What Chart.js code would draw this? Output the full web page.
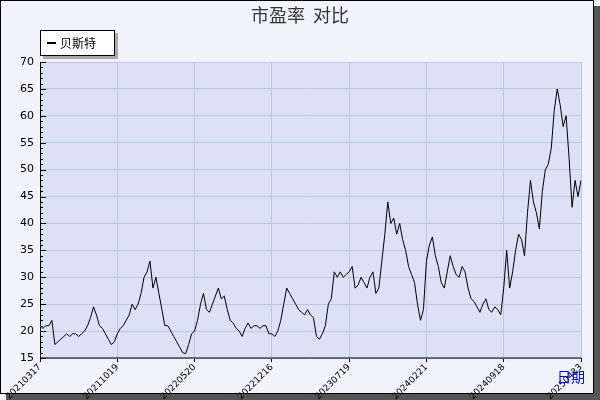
<!DOCTYPE html>
<html>
<head>
<meta charset="utf-8">
<script src="https://cdn.jsdelivr.net/npm/chart.js@4"></script>
<style>
  html, body { margin: 0; padding: 0; background: #fff; }
  #wrap { width: 600px; height: 400px; }
</style>
</head>
<body>
<div id="wrap"><canvas id="c" width="600" height="400"></canvas></div>
<script>
// PE ratio, 贝斯特 (~26 samples per tick interval)
const peValues = [
  21,20.5,21,21,22,17.5,18,18.5,19,19.5,19,19.5,19.5,19,19.5,20,21,22.5,24.5,23,21,20.5,19.5,18.5,17.5,18,
  19.5,20.5,21,22,23,25,24,25,27,30,31,33,28,30,27,24,21,21,20,19,18,17,16,15.8,17.5,19.5,
  20,22,25,27,24,23.5,25,26.5,28,26,26.5,24,22,21.5,20.5,20,19,20.5,21.5,20.5,21,21,20.5,21,21,19.5,
  19.5,19,20,22,25,28,27,26,25,24,23.5,23,24,23,22.5,19,18.5,19.5,21,25,26,31,30,31,30,30.5,
  31,32,28,28.5,30,29,28,30,31,27,28,33,38,44,40,41,38,40,37,35,32,30.5,29,25,22,24,
  33,36,37.5,34,32,29,28,31,34,32,30.5,30,32,31,28,26,25.5,24.5,23.5,25,26,24,23.5,24.5,24,23,
  28,35,28,31,35,38,37,34,42,48,44,42,39,46,50,51,54,61,65,62,58,60,52,43,48,45,
  48
];
const tickLabels = ['20210317','20211019','20220520','20221216','20230719','20240221','20240918','20250423'];
const seriesName = '贝斯特';
const chartTitle = '市盈率  对比';
const step = 26;

const labels = peValues.map((v, i) => (i % step === 0 || i === peValues.length - 1) ? tickLabels[Math.min(Math.ceil(i / step), tickLabels.length - 1)] : '');

const frame = {
  id: 'frame',
  beforeDraw(chart) {
    const ctx = chart.ctx, a = chart.chartArea;
    ctx.save();
    ctx.fillStyle = '#f1f2fa';
    ctx.fillRect(0, 0, 600, 400);
    // shadow on right/bottom
    ctx.fillStyle = '#555';
    ctx.fillRect(594, 6, 6, 394);
    ctx.fillRect(6, 394, 594, 6);
    ctx.strokeStyle = '#000';
    ctx.lineWidth = 1;
    ctx.strokeRect(0.5, 0.5, 593, 393);
    ctx.fillStyle = '#dce1f6';
    ctx.fillRect(a.left, a.top, a.right - a.left, a.bottom - a.top);
    ctx.restore();
  },
  afterDraw(chart) {
    const ctx = chart.ctx, a = chart.chartArea, y = chart.scales.y;
    ctx.save();
    // minor ticks on y axis
    ctx.strokeStyle = '#000';
    ctx.lineWidth = 1;
    for (let v = 15; v <= 70; v++) {
      const py = Math.round(y.getPixelForValue(v)) + 0.5;
      ctx.beginPath();
      ctx.moveTo(a.left, py);
      ctx.lineTo(a.left + (v % 5 === 0 ? 6 : 3), py);
      ctx.stroke();
    }
    ctx.beginPath();
    ctx.moveTo(a.left + 0.5, a.top);
    ctx.lineTo(a.left + 0.5, a.bottom);
    ctx.lineTo(a.right, a.bottom);
    ctx.stroke();
    // title
    ctx.fillStyle = '#333';
    ctx.font = '18px "Noto Sans CJK SC"';
    ctx.textAlign = 'center';
    ctx.textBaseline = 'middle';
    ctx.fillText(chartTitle, 300, 15);
    // legend
    ctx.fillStyle = '#aaa';
    ctx.fillRect(43, 33, 75, 26);
    ctx.fillStyle = '#fff';
    ctx.fillRect(40, 30, 75, 26);
    ctx.strokeStyle = '#000';
    ctx.strokeRect(40.5, 30.5, 74, 25);
    ctx.fillStyle = '#000';
    ctx.fillRect(47, 42, 9, 2);
    ctx.font = '12px "Noto Sans CJK SC"';
    ctx.textAlign = 'left';
    ctx.fillText(seriesName, 60, 43);
    // axis name
    ctx.fillStyle = '#0000ee';
    ctx.font = '14px "Noto Sans CJK SC"';
    ctx.fillText('日期', 557, 377);
    ctx.restore();
  }
};

new Chart(document.getElementById('c'), {
  type: 'line',
  data: {
    labels: labels,
    datasets: [{
      label: seriesName,
      data: peValues,
      borderColor: '#000',
      borderWidth: 1,
      pointRadius: 0,
      tension: 0,
      fill: false
    }]
  },
  options: {
    responsive: false,
    animation: false,
    devicePixelRatio: 1,
    layout: { padding: { left: 0, top: 62, right: 19, bottom: 0 } },
    plugins: { legend: { display: false }, title: { display: false }, tooltip: { enabled: false } },
    scales: {
      x: {
        type: 'category',
        offset: false,
        border: { display: false },
        grid: {
          color: c => (c.tick && c.tick.label) ? '#bcc6e8' : 'rgba(0,0,0,0)',
          tickColor: c => (c.tick && c.tick.label) ? '#000' : 'rgba(0,0,0,0)',
          tickLength: 4,
          drawTicks: true
        },
        ticks: {
          autoSkip: false,
          minRotation: 45,
          maxRotation: 45,
          color: '#000',
          font: { size: 9, family: 'DejaVu Sans' },
          padding: 0
        },
        afterFit: s => { s.height = 42; }
      },
      y: {
        min: 15,
        max: 70,
        border: { display: false },
        grid: { color: '#bcc6e8', drawTicks: false },
        ticks: { stepSize: 5, color: '#000', font: { size: 11, family: 'DejaVu Sans' }, padding: 6 },
        afterFit: s => { s.width = 40; }
      }
    }
  },
  plugins: [frame]
});
</script>
</body>
</html>
